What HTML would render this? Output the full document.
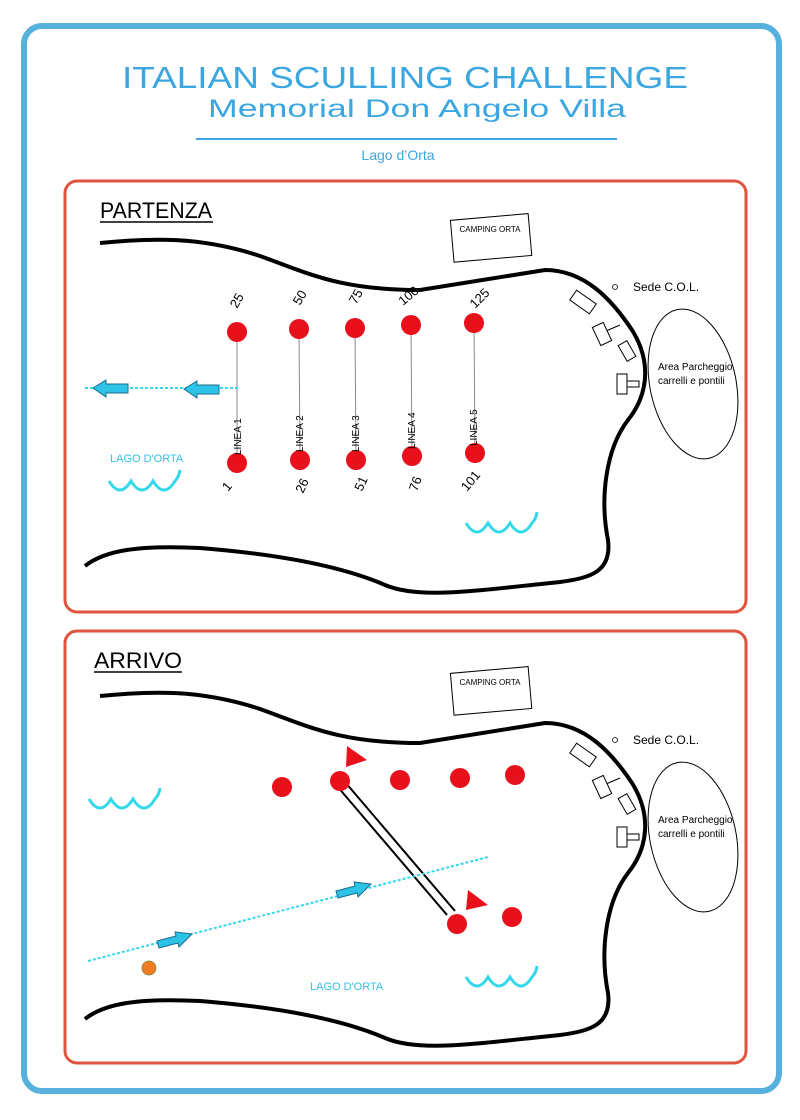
<!DOCTYPE html>
<html><head><meta charset="utf-8"><style>html,body{margin:0;padding:0;background:#fff}svg{display:block}</style></head>
<body>
<svg width="800" height="1120" viewBox="0 0 800 1120" xmlns="http://www.w3.org/2000/svg" font-family="Liberation Sans, sans-serif">
<rect x="24" y="26" width="755" height="1065" rx="18" fill="#fff" stroke="#56b1dd" stroke-width="6"/>
<text x="405" y="88" text-anchor="middle" font-size="31" fill="#3ba6e0" textLength="566" lengthAdjust="spacingAndGlyphs">ITALIAN  SCULLING  CHALLENGE</text>
<text x="417" y="117" text-anchor="middle" font-size="25" fill="#3ba6e0" textLength="418" lengthAdjust="spacingAndGlyphs">Memorial  Don  Angelo  Villa</text>
<line x1="196" y1="139" x2="617" y2="139" stroke="#3ba6e0" stroke-width="2"/>
<text x="398" y="160" text-anchor="middle" font-size="14" fill="#3ba6e0">Lago d’Orta</text>

<defs>
<g id="shore">
<path d="M100,243 C150,238 200,236 260,256 C310,274 340,290 420,290 L545,270 C585,270 612,300 632,330 C652,362 648,395 628,420 C605,450 600,500 608,540 C612,572 590,578 560,582 C480,590 420,600 385,585 C355,572 300,556 200,548 C140,545 105,550 85,566" fill="none" stroke="#000" stroke-width="4"/>
<g transform="rotate(-5 490 237)"><rect x="452" y="217" width="78" height="42" fill="#fff" stroke="#000" stroke-width="1"/></g>
<text x="490" y="232" text-anchor="middle" font-size="8">CAMPING  ORTA</text>
<circle cx="615" cy="287" r="2.5" fill="none" stroke="#000" stroke-width="0.8"/>
<text x="633" y="291" font-size="12">Sede C.O.L.</text>
<ellipse cx="693" cy="384" rx="43" ry="76" transform="rotate(-12 693 384)" fill="none" stroke="#000" stroke-width="1"/>
<text x="658" y="370" font-size="10">Area Parcheggio</text>
<text x="658" y="384" font-size="10">carrelli e pontili</text>
<g fill="#fff" stroke="#000" stroke-width="1">
<rect x="571" y="296" width="24" height="12" transform="rotate(35 583 302)"/>
<line x1="606" y1="331" x2="620" y2="325"/>
<rect x="596" y="324" width="12" height="20" transform="rotate(-25 602 334)"/>
<rect x="622" y="342" width="10" height="18" transform="rotate(-30 627 351)"/>
<rect x="617" y="374" width="10" height="20"/>
<rect x="627" y="381" width="12" height="6"/>
</g>
</g>
<path id="wave" d="M0,0 q11,18 22,0 q11,18 22,0 q11,18 22,0 q4,-4 5,-11" fill="none" stroke="#33d9ea" stroke-width="3"/>
</defs>

<!-- PARTENZA -->
<rect x="65" y="181" width="681" height="431" rx="12" fill="#fff" stroke="#e0533f" stroke-width="3"/>
<text x="100" y="218" font-size="22" textLength="112" lengthAdjust="spacingAndGlyphs">PARTENZA</text>
<line x1="100" y1="222" x2="213" y2="222" stroke="#000" stroke-width="1.5"/>
<use href="#shore"/>
<g stroke="#888" stroke-width="1">
<line x1="237" y1="332" x2="237" y2="463"/><line x1="299" y1="329" x2="300" y2="460"/><line x1="355" y1="328" x2="356" y2="460"/><line x1="411" y1="325" x2="412" y2="456"/><line x1="474" y1="323" x2="475" y2="453"/>
</g>
<g fill="#e8101a">
<circle cx="237" cy="332" r="10"/><circle cx="299" cy="329" r="10"/><circle cx="355" cy="328" r="10"/><circle cx="411" cy="325" r="10"/><circle cx="474" cy="323" r="10"/>
<circle cx="237" cy="463" r="10"/><circle cx="300" cy="460" r="10"/><circle cx="356" cy="460" r="10"/><circle cx="412" cy="456" r="10"/><circle cx="475" cy="453" r="10"/>
</g>
<g font-size="13">
<text transform="translate(237,309) rotate(-60)">25</text>
<text transform="translate(300,306) rotate(-60)">50</text>
<text transform="translate(356,305) rotate(-60)">75</text>
<text transform="translate(403,306) rotate(-40)">100</text>
<text transform="translate(475,309) rotate(-45)">125</text>
<text transform="translate(228,492) rotate(-50)">1</text>
<text transform="translate(303,494) rotate(-65)">26</text>
<text transform="translate(362,492) rotate(-65)">51</text>
<text transform="translate(417,492) rotate(-70)">76</text>
<text transform="translate(467,492) rotate(-50)">101</text>
</g>
<g font-size="10">
<text transform="translate(241,455) rotate(-90)">LINEA  1</text>
<text transform="translate(303,452) rotate(-90)">LINEA  2</text>
<text transform="translate(359,452) rotate(-90)">LINEA  3</text>
<text transform="translate(415,449) rotate(-90)">LINEA  4</text>
<text transform="translate(477,446) rotate(-90)">LINEA  5</text>
</g>
<line x1="85" y1="388" x2="238" y2="388" stroke="#33d9ea" stroke-width="2" stroke-dasharray="3,2"/>
<g fill="#2cc3e6" stroke="#1b6c8c" stroke-width="1">
<path d="M93,388 L106,380 L106,384 L128,384 L128,393 L106,393 L106,397 Z"/>
<path d="M184,389 L197,381 L197,385 L219,385 L219,394 L197,394 L197,398 Z"/>
</g>
<text x="110" y="462" font-size="11" fill="#33c0e0">LAGO  D'ORTA</text>
<use href="#wave" x="109" y="481"/>
<use href="#wave" x="466" y="523"/>

<!-- ARRIVO -->
<rect x="65" y="631" width="681" height="432" rx="12" fill="#fff" stroke="#e0533f" stroke-width="3"/>
<text x="94" y="668" font-size="22" textLength="88" lengthAdjust="spacingAndGlyphs">ARRIVO</text>
<line x1="94" y1="672" x2="182" y2="672" stroke="#000" stroke-width="1.5"/>
<use href="#shore" y="453"/>
<g stroke="#000" stroke-width="2">
<line x1="337" y1="786" x2="447" y2="915"/><line x1="345" y1="782" x2="455" y2="911"/>
</g>
<g fill="#e8101a">
<circle cx="282" cy="787" r="10"/><circle cx="340" cy="781" r="10"/><circle cx="400" cy="780" r="10"/><circle cx="460" cy="778" r="10"/><circle cx="515" cy="775" r="10"/>
<circle cx="457" cy="924" r="10"/><circle cx="512" cy="917" r="10"/>
<path d="M347,746 L367,760 L346,767 Z"/><path d="M468,890 L488,905 L466,910 Z"/>
</g>
<line x1="88" y1="961" x2="488" y2="857" stroke="#33d9ea" stroke-width="2" stroke-dasharray="3,2"/>
<g fill="#2cc3e6" stroke="#1b6c8c" stroke-width="1">
<path d="M192,934 L175,932 L176,936 L157,941 L159,948 L178,943 L179,947 Z"/>
<path d="M371,884 L354,882 L355,886 L336,891 L338,898 L357,893 L358,897 Z"/>
</g>
<circle cx="149" cy="968" r="7" fill="#ef7b22" stroke="#884" stroke-width="0.8"/>
<text x="310" y="990" font-size="11" fill="#33c0e0">LAGO  D'ORTA</text>
<use href="#wave" x="89" y="799"/>
<use href="#wave" x="466" y="977"/>
</svg>
</body></html>
